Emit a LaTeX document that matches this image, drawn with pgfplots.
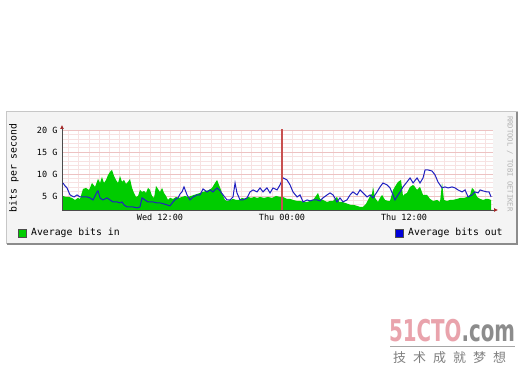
\documentclass[border=0pt]{standalone}
\usepackage{fontspec}
\setmainfont{DejaVu Sans Mono}
\newfontfamily\cjk{Noto Sans CJK SC}
\newfontfamily\wmfont{DejaVu Sans}
\usepackage{pgfplots}
\usepackage{pgfplotstable}
\pgfplotsset{compat=1.18}
\usetikzlibrary{arrows.meta}
\definecolor{rrdgreen}{HTML}{00CC00}
\definecolor{rrdblue}{HTML}{2020C0}
\definecolor{gridminor}{HTML}{F7E2E2}
\definecolor{gridmajor}{HTML}{EDC2C2}
\definecolor{vrulecol}{HTML}{C85050}
\definecolor{boxbg}{HTML}{F4F4F4}
\definecolor{wmred}{HTML}{E9A3AC}
\definecolor{arrowred}{HTML}{A02020}

\pgfplotstableread{
h G
2.46 5.0
2.75 4.77
3.05 4.77
3.34 4.55
3.64 4.09
3.93 4.55
4.13 4.32
4.43 6.59
4.72 6.82
5.02 6.36
5.31 7.95
5.61 7.05
5.90 8.86
6.10 7.95
6.29 9.32
6.49 7.95
6.69 8.64
6.89 9.77
7.08 10.45
7.28 10.91
7.48 9.55
7.67 8.64
7.87 7.95
8.07 9.55
8.26 8.18
8.46 8.64
8.66 7.73
8.85 8.18
9.05 8.86
9.25 6.82
9.44 5.68
9.64 4.77
9.84 5.0
10.03 6.36
10.23 5.91
10.43 6.14
10.62 5.68
10.82 6.82
11.02 6.36
11.21 5.0
11.41 4.55
11.61 7.27
11.80 6.59
12.00 5.91
12.20 6.82
12.39 5.68
12.59 5.0
12.79 4.09
12.98 4.55
13.28 4.32
13.57 4.77
13.87 4.55
14.16 4.77
14.46 5.0
14.75 4.77
15.05 5.0
15.34 5.23
15.64 5.45
15.93 5.68
16.23 5.91
16.52 6.14
16.82 6.36
17.11 6.82
17.41 7.95
17.61 8.64
17.80 7.5
18.00 6.36
18.20 5.0
18.39 4.09
18.59 3.86
18.89 4.09
19.18 4.32
19.48 4.09
19.77 4.09
20.07 4.55
20.36 4.32
20.66 4.77
20.95 4.55
21.25 4.77
21.54 4.55
21.84 4.77
22.23 4.55
22.62 4.77
23.02 4.55
23.41 5.0
23.80 4.77
24.10 4.77
24.49 4.32
24.79 4.32
25.08 4.09
25.48 3.86
25.77 3.86
26.16 3.64
26.46 3.64
26.75 3.86
27.05 4.09
27.34 5.0
27.54 5.68
27.74 4.32
28.03 4.09
28.43 3.64
28.72 3.86
29.02 3.86
29.31 4.55
29.41 4.77
29.61 3.64
29.90 3.64
30.20 3.41
30.49 3.18
30.79 2.95
31.08 2.95
31.38 2.73
31.67 2.5
31.97 2.5
32.26 3.18
32.46 4.09
32.66 5.0
32.85 5.45
32.95 7.05
33.15 4.55
33.44 3.64
33.64 4.55
33.84 5.23
34.13 4.09
34.43 3.86
34.62 3.86
34.92 6.36
35.21 7.5
35.41 8.18
35.70 8.64
35.90 5.0
36.10 5.45
36.29 5.68
36.59 7.05
36.89 7.5
37.08 7.05
37.28 6.36
37.57 7.05
37.87 5.23
38.26 5.23
38.56 4.32
38.85 3.86
39.25 4.09
39.54 3.64
39.74 7.95
39.93 4.09
40.23 3.86
40.52 4.09
40.82 4.09
41.21 4.32
41.51 4.55
41.90 4.55
42.20 4.77
42.49 5.23
42.69 6.82
42.89 6.36
43.18 4.77
43.48 4.32
43.77 4.09
44.07 4.32
44.26 4.32
44.56 4.09
}\inbits

\pgfplotstableread{
h G
2.46 7.95
2.66 7.27
2.85 6.82
3.15 5.23
3.34 5.0
3.54 4.77
3.84 5.23
4.13 4.77
4.43 4.77
4.82 4.77
5.11 4.55
5.41 4.09
5.61 5.0
5.80 5.91
5.90 6.14
6.10 4.55
6.39 4.09
6.79 4.55
7.08 4.09
7.38 3.64
7.77 3.64
8.07 3.41
8.26 3.64
8.46 2.95
8.75 2.5
9.05 2.5
9.34 2.5
9.74 2.27
10.03 2.5
10.23 4.55
10.52 4.09
10.82 3.64
11.31 3.64
11.70 3.41
12.00 3.41
12.39 3.18
12.69 2.95
12.98 2.73
13.28 3.64
13.57 4.32
13.77 4.55
13.97 5.45
14.16 5.91
14.36 7.05
14.66 5.23
14.95 4.09
15.25 4.77
15.64 5.23
15.93 5.23
16.23 6.59
16.62 5.91
16.92 6.36
17.21 5.91
17.61 6.82
17.90 6.14
18.20 5.23
18.59 4.09
18.89 4.09
19.18 4.77
19.38 7.95
19.57 5.68
19.87 4.09
20.16 4.09
20.56 4.55
20.85 5.91
21.15 6.36
21.54 5.91
21.84 6.82
22.13 5.91
22.52 6.82
22.82 5.68
23.11 6.82
23.51 6.36
23.80 7.5
24.10 9.09
24.49 8.64
24.79 7.5
25.08 5.91
25.48 4.77
25.77 5.23
26.07 3.64
26.46 4.09
26.75 3.86
27.05 4.09
27.44 4.09
27.74 3.86
28.03 4.55
28.43 5.23
28.72 5.68
29.02 5.23
29.41 3.64
29.70 4.55
30.00 3.64
30.39 4.09
30.69 5.23
30.98 5.91
31.38 5.23
31.67 6.36
31.97 5.68
32.36 4.77
32.66 5.23
32.95 4.55
33.34 5.91
33.64 7.05
33.93 7.95
34.33 7.5
34.62 6.82
34.92 5.23
35.11 4.09
35.41 5.23
35.61 5.91
35.90 7.05
36.29 8.18
36.59 9.09
36.89 7.95
37.28 9.09
37.57 7.95
37.87 9.09
38.07 10.91
38.36 10.91
38.75 10.68
39.05 9.77
39.34 8.18
39.74 6.82
40.03 7.05
40.33 6.82
40.72 7.05
41.02 6.82
41.31 6.36
41.70 5.91
42.00 6.36
42.30 4.77
42.69 5.23
42.98 5.91
43.28 5.68
43.48 6.36
43.77 6.14
44.16 5.91
44.36 5.91
44.56 4.77
}\outbits

\begin{document}
\begin{tikzpicture}[x=1pt,y=1pt]
\useasboundingbox (0,0) rectangle (523,377);
\fill[white] (0,0) rectangle (523,377);
% chart frame
\fill[boxbg] (6,133) rectangle (517,265);
\draw[black!22, line width=1pt] (6,133) rectangle (517,265);
\draw[black!45, line width=1.3pt] (6.5,133) -- (517,133) -- (517,264.5);

\begin{axis}[
  at={(62pt,167pt)}, anchor=south west,
  width=431pt, height=80pt, scale only axis,
  xmin=2.36, xmax=44.75, ymin=1.8, ymax=20,
  axis x line=bottom, axis y line=left,
  axis line style={black!70, line width=0.7pt},
  x axis line style={-{Latex[length=4pt,width=4pt,color=arrowred]}, shorten >=-5pt},
  y axis line style={-{Latex[length=4pt,width=4pt,color=arrowred]}, shorten >=-5pt},
  xtick={12,24,36}, xticklabels={Wed 12:00,Thu 00:00,Thu 12:00},
  minor xtick={3,4,...,44},
  ytick={5,10,15,20}, yticklabels={5 G,10 G,15 G,20 G},
  minor ytick={2,3,...,19},
  grid=both,
  major grid style={gridmajor, line width=0.6pt},
  major x grid style={gridminor, line width=0.6pt},
  minor grid style={gridminor, line width=0.5pt},
  major tick length=0pt, minor tick length=0pt,
  tick label style={font=\fontsize{8.5}{10}\selectfont},
  yticklabel style={xshift=-1pt},
  xticklabel style={yshift=-1pt},
  axis background/.style={fill=white},
]
\addplot[fill=rrdgreen, draw=none] table[x=h,y=G] {\inbits} \closedcycle;
\addplot[rrdblue, line width=1pt, mark=none] table[x=h,y=G] {\outbits};
\addplot[vrulecol, line width=1.2pt, mark=none] coordinates {(24,1.8) (24,20.3)};
\end{axis}

% y label
\node[rotate=90, font=\fontsize{9.8}{11}\selectfont] at (14,209) {bits per second};
% rrdtool credit
\node[rotate=-90, font=\fontsize{7.2}{8}\selectfont, text=black!30] at (510,213) {RRDTOOL / TOBI OETIKER};
% legend
\draw[fill=rrdgreen, draw=black!70, line width=0.6pt] (18,140) rectangle (26,148);
\node[anchor=west, inner sep=0pt, font=\fontsize{9.8}{11}\selectfont] at (31,144) {Average bits in};
\draw[fill=blue!85!black, draw=black!70, line width=0.6pt] (395,140) rectangle (403,148);
\node[anchor=west, inner sep=0pt, font=\fontsize{9.8}{11}\selectfont] at (408,144) {Average bits out};

% 51CTO watermark
\node[anchor=base west, inner sep=0pt, xscale=0.66] at (389,35)
  {\wmfont\bfseries\fontsize{30}{30}\selectfont\textcolor{wmred}{51CTO}\textcolor{black!45}{.com}};
\draw[black!35, line width=0.8pt] (390,31) -- (515,31);
\node[anchor=west, inner sep=0pt, text=black!50] at (393,19)
  {\cjk\fontsize{13}{13}\selectfont 技\hspace{7pt}术\hspace{7pt}成\hspace{7pt}就\hspace{7pt}梦\hspace{7pt}想};
\end{tikzpicture}
\end{document}
